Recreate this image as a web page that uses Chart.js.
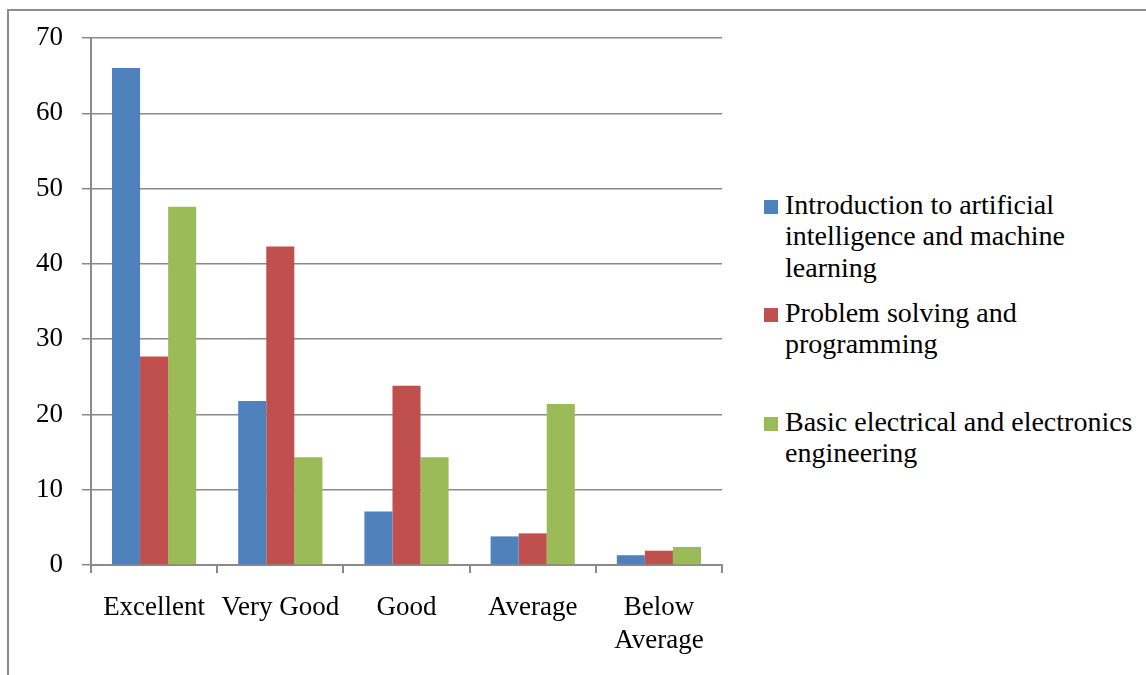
<!DOCTYPE html>
<html>
<head>
<meta charset="utf-8">
<script src="https://cdn.jsdelivr.net/npm/chart.js@4/dist/chart.umd.min.js"></script>
<style>
  html, body { margin: 0; padding: 0; background: #fff; overflow: hidden; }
  body { width: 1146px; height: 675px; position: relative; font-family: "Liberation Serif", serif; }
  #frame { position: absolute; left: 7px; top: 9px; width: 1200px; height: 700px;
           border-top: 2px solid #8c8c8c; border-left: 2px solid #8c8c8c; }
  #wrap { position: absolute; left: 0; top: 0; width: 740px; height: 675px; }
  .box { position: absolute; left: 764px; width: 14px; height: 14px; }
  .item { position: absolute; left: 785px; font-size: 28px; line-height: 31.3px; color: #000; white-space: nowrap; }
</style>
</head>
<body>
<div id="frame"></div>
<div id="wrap"><canvas id="chart"></canvas></div>
<div id="legend"></div>
<script>
// chart data
const categories = ['Excellent', 'Very Good', 'Good', 'Average', ['Below', 'Average']];
const aimlScores = [66, 21.8, 7.1, 3.8, 1.3];
const progScores = [27.7, 42.3, 23.8, 4.2, 1.9];
const beeeScores = [47.6, 14.3, 14.3, 21.4, 2.4];
const seriesNames = [
    ['Introduction to artificial', 'intelligence and machine', 'learning'],
    ['Problem solving and', 'programming'],
    ['Basic electrical and electronics', 'engineering']
];
const yTicks = [0, 10, 20, 30, 40, 50, 60, 70];

const colors = ['#4F81BD', '#C0504D', '#9BBB59'];
const font = { family: 'Liberation Serif', size: 27 };

const ctx = document.getElementById('chart').getContext('2d');
new Chart(ctx, {
    type: 'bar',
    data: {
        labels: categories,
        datasets: [aimlScores, progScores, beeeScores].map((d, i) => ({
            label: seriesNames[i].join(' '),
            data: d,
            backgroundColor: colors[i],
            borderWidth: 0,
            barPercentage: 1,
            categoryPercentage: 0.667
        }))
    },
    options: {
        responsive: true,
        maintainAspectRatio: false,
        animation: false,
        layout: { padding: { top: 38, right: 18, bottom: 0, left: 0 } },
        plugins: { legend: { display: false }, tooltip: { enabled: false } },
        scales: {
            x: {
                grid: { offset: true, drawOnChartArea: false, tickLength: 8, color: '#8a8a8a', lineWidth: 2 },
                border: { color: '#8a8a8a', width: 2 },
                ticks: { color: '#000', font: font, padding: 19, maxRotation: 0, autoSkip: false },
                afterFit: scale => { scale.height = 110; }
            },
            y: {
                min: 0,
                max: 70,
                afterBuildTicks: scale => { scale.ticks = yTicks.map(v => ({ value: v })); },
                grid: { color: '#8a8a8a', lineWidth: 1.5, tickLength: 9 },
                border: { color: '#8a8a8a', width: 2 },
                ticks: { color: '#000', font: font, padding: 19 },
                afterFit: scale => { scale.width = 91; }
            }
        }
    }
});

// legend as html text, each item gets the same slot height
const legend = document.getElementById('legend');
const itemTops = [189, 297, 406];
seriesNames.forEach((lines, i) => {
    const box = document.createElement('div');
    box.className = 'box';
    box.style.top = (itemTops[i] + 11) + 'px';
    box.style.background = colors[i];
    legend.appendChild(box);
    const txt = document.createElement('div');
    txt.className = 'item';
    txt.style.top = itemTops[i] + 'px';
    txt.innerHTML = lines.join('<br>');
    legend.appendChild(txt);
});
</script>
</body>
</html>
